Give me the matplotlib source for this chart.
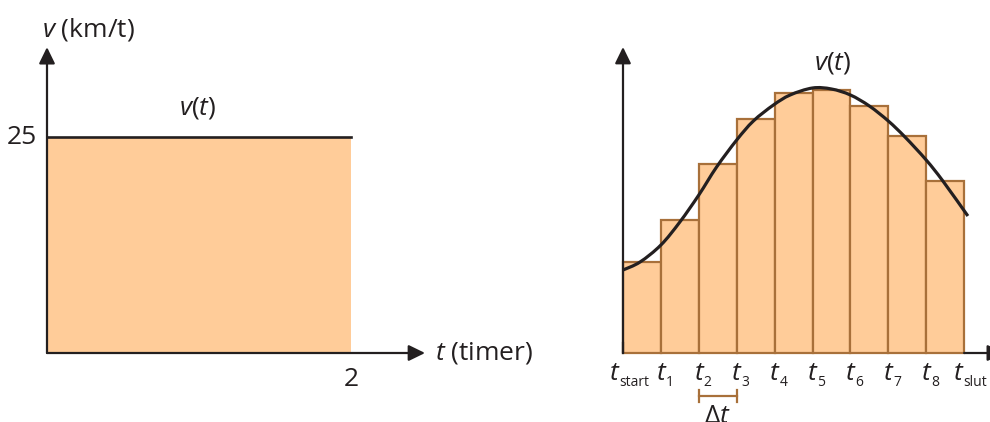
import numpy as np
import matplotlib.pyplot as plt
from matplotlib.path import Path
from matplotlib.patches import PathPatch

plt.rcParams['font.family'] = ['Open Sans', 'DejaVu Sans']
plt.rcParams['mathtext.fontset'] = 'custom'
plt.rcParams['mathtext.rm'] = 'Open Sans'
plt.rcParams['mathtext.it'] = 'Open Sans:italic'

ink = '#231F20'
peach = '#FFCC99'
brown = '#A8703A'

# venstre: konstant fart
t_end = 2
v_const = 25

# højre: fart v(t) og trappesum med 9 intervaller
curve_t = [0, 0.45, 1, 1.5, 2, 2.47, 3, 3.44, 3.97, 4.41, 5, 5.5, 6, 6.5,
           7, 7.44, 8, 8.44, 9.1]
curve_v = [83, 91, 108, 131, 158, 186, 213, 232, 248, 258, 265, 264, 258, 247,
           232, 216, 193, 172, 137]
bar_v = [91, 133, 189, 234, 260, 263, 247, 217, 172]
tick_subs = ['start', '1', '2', '3', '4', '5', '6', '7', '8', 'slut']

fs = 19
sub_fs = 10
px = 0.72  # pixels -> points at 100 dpi
arrow = dict(arrowstyle='-|>,head_length=0.45,head_width=0.22', mutation_scale=22,
             color=ink, lw=1.6, shrinkA=0, shrinkB=0)


def smooth_path(xs, ys):
    # glat kurve gennem punkterne som kubiske Bezier-stykker (Catmull-Rom)
    p = np.column_stack([xs, ys]).astype(float)
    verts = [p[0]]
    codes = [Path.MOVETO]
    for i in range(len(p) - 1):
        p0 = p[max(i - 1, 0)]
        p3 = p[min(i + 2, len(p) - 1)]
        c1 = p[i] + (p[i + 1] - p0) / 6
        c2 = p[i + 1] - (p3 - p[i]) / 6
        verts += [c1, c2, p[i + 1]]
        codes += [Path.CURVE4] * 3
    return Path(verts, codes)


fig = plt.figure(figsize=(9.9, 4.22), dpi=100)

# ---- venstre graf ----
ax1 = fig.add_axes([0, 0, 0.5, 1])
ax1.set_xlim(-47 / 152, 448 / 152)
ax1.set_ylim(-69 / 8.64, 353 / 8.64)
ax1.axis('off')

ax1.fill_between([0, t_end], 0, v_const, color=peach, lw=0)
ax1.plot([0, t_end], [v_const, v_const], color=ink, lw=1.9)
ax1.annotate('', xy=(0, 35.4), xytext=(0, 0), arrowprops=arrow)
ax1.annotate('', xy=(2.487, 0), xytext=(0, 0), arrowprops=arrow)

ax1.text(-0.035, 37.4, r'$v$ (km/t)', fontsize=fs, color=ink, ha='left', va='center')
ax1.text(-0.065, v_const, str(v_const), fontsize=fs, color=ink, ha='right', va='center')
ax1.text(t_end, -3.1, str(t_end), fontsize=fs, color=ink, ha='center', va='center')
ax1.text(2.553, 0, r'$t$ (timer)', fontsize=fs, color=ink, ha='left', va='center')
ax1.text(0.993, 28.4, r'$v$($t$)', fontsize=fs, color=ink, ha='center', va='center')

# ---- højre graf ----
ax2 = fig.add_axes([0.5, 0, 0.5, 1])
ax2.set_xlim((495 - 623) / 37.9, (990 - 623) / 37.9)
ax2.set_ylim(-69, 353)
ax2.axis('off')

ax2.bar(np.arange(len(bar_v)), bar_v, width=1, align='edge', color=peach,
        edgecolor=brown, lw=1.6)
ax2.add_patch(PathPatch(smooth_path(curve_t, curve_v), fill=False,
                        edgecolor=ink, lw=2.3, capstyle='butt'))
ax2.annotate('', xy=(0, 306), xytext=(0, 0), arrowprops=arrow, annotation_clip=False)
ax2.annotate('', xy=(10.05, 0), xytext=(len(bar_v), 0), arrowprops=arrow,
             annotation_clip=False)
ax2.plot([0, 0], [0, 10], color=ink, lw=1.6)

# t-mærker: stort kursivt t med lille sænket indeks
for k, sub in enumerate(tick_subs):
    dx = {'start': -8, 'slut': -5}.get(sub, 0.5)
    ax2.annotate('$t$', xy=(k, 0), xytext=(dx * px, -27 * px),
                 textcoords='offset points', fontsize=fs, color=ink,
                 ha='center', va='baseline')
    ax2.annotate(sub, xy=(k, 0), xytext=((dx + 4.5) * px, -33 * px),
                 textcoords='offset points', fontsize=sub_fs, color=ink,
                 ha='left', va='baseline')

ax2.text(5.54, 290, r'$v$($t$)', fontsize=fs, color=ink, ha='center', va='center')

# Δt-markering under t2..t3
ax2.plot([2, 3], [-43, -43], color=brown, lw=1.6)
ax2.plot([2, 2], [-49, -37], color=brown, lw=1.6)
ax2.plot([3, 3], [-49, -37], color=brown, lw=1.6)
ax2.text(2.5, -51, r'$\Delta t$', fontsize=fs, color=ink, ha='center', va='top')

fig.savefig('out.png', dpi=100)
